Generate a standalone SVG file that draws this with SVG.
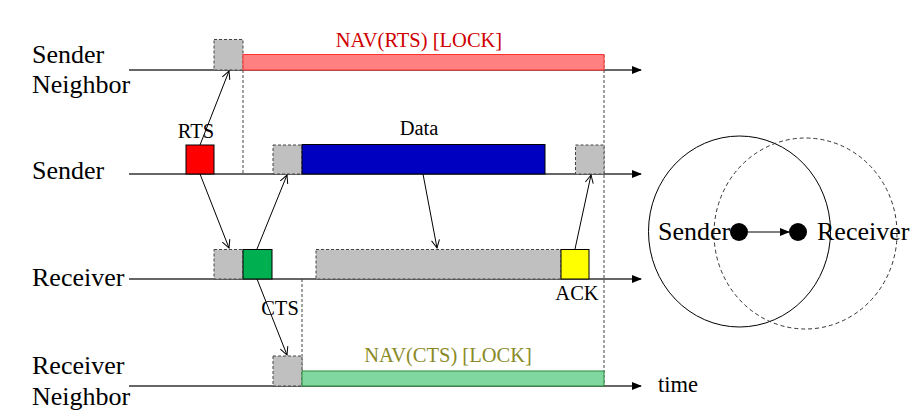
<svg xmlns="http://www.w3.org/2000/svg" width="914" height="420" viewBox="0 0 914 420">
<defs>
<style>
.lbl{font-family:"Liberation Serif","Times New Roman",serif;font-size:26px;fill:#000}
.sm{font-family:"Liberation Serif","Times New Roman",serif;font-size:20.5px;fill:#000}
.tl{stroke:#333;stroke-width:1.3;fill:none}
.gray{fill:#c0c0c0;stroke:#444;stroke-width:1;stroke-dasharray:3,2}
.solid{stroke:#000;stroke-width:1}
.vd{stroke:#444;stroke-width:1;stroke-dasharray:3,2;fill:none}
.msg{stroke:#000;stroke-width:1;fill:none}
</style>
<marker id="tip" markerWidth="10" markerHeight="8" refX="9" refY="4" orient="auto" markerUnits="userSpaceOnUse">
<path d="M0,0 L10,4 L0,8 Z" fill="#000"/>
</marker>
<marker id="open" markerWidth="10" markerHeight="10" refX="9" refY="5" orient="auto" markerUnits="userSpaceOnUse">
<path d="M1,1 L9,5 L1,9" fill="none" stroke="#000" stroke-width="1"/>
</marker>
</defs>
<rect width="914" height="420" fill="#fff"/>

<g id="timelines">
<line class="tl" x1="129" y1="70" x2="641" y2="70" marker-end="url(#tip)"/>
<line class="tl" x1="129" y1="174" x2="641" y2="174" marker-end="url(#tip)"/>
<line class="tl" x1="129" y1="279" x2="641" y2="279" marker-end="url(#tip)"/>
<line class="tl" x1="129" y1="386" x2="641" y2="386" marker-end="url(#tip)"/>
</g>

<g id="labels">
<text class="lbl" x="32" y="63">Sender</text>
<text class="lbl" x="32" y="93">Neighbor</text>
<text class="lbl" x="32" y="179">Sender</text>
<text class="lbl" x="32" y="286">Receiver</text>
<text class="lbl" x="32" y="374">Receiver</text>
<text class="lbl" x="32" y="405">Neighbor</text>
<text class="sm" x="658" y="392" style="font-size:22.5px">time</text>
</g>

<g id="guides">
<line class="vd" x1="243" y1="70" x2="243" y2="174"/>
<line class="vd" x1="604" y1="55" x2="604" y2="386"/>
<line class="vd" x1="302" y1="279" x2="302" y2="386"/>
</g>

<g id="sender-neighbor">
<rect class="gray" x="214" y="39.5" width="29" height="30.5"/>
<rect x="243" y="54.5" width="361" height="15.5" fill="#ff8080" stroke="#ff3030" stroke-width="1"/>
<text class="sm" x="419" y="47" text-anchor="middle" style="fill:#d00000">NAV(RTS) [LOCK]</text>
</g>

<g id="sender">
<rect class="solid" x="186" y="145" width="28" height="29" fill="#ff0000"/>
<text class="sm" x="196" y="138" text-anchor="middle">RTS</text>
<rect class="gray" x="273" y="145" width="29" height="29"/>
<rect class="solid" x="302" y="144.5" width="243" height="29.5" fill="#0000c0"/>
<text class="sm" x="419" y="135" text-anchor="middle">Data</text>
<rect class="gray" x="575.5" y="145" width="28.5" height="29"/>
</g>

<g id="receiver">
<rect class="gray" x="214" y="249.5" width="29" height="29.5"/>
<rect class="solid" x="243" y="249.5" width="29" height="29.5" fill="#00b050"/>
<text class="sm" x="280" y="315" text-anchor="middle">CTS</text>
<rect class="gray" x="316" y="249.5" width="245" height="29.5"/>
<rect class="solid" x="561" y="249.5" width="28" height="29.5" fill="#ffff00"/>
<text class="sm" x="577" y="300" text-anchor="middle">ACK</text>
</g>

<g id="receiver-neighbor">
<rect class="gray" x="273" y="356" width="29" height="30"/>
<rect x="302" y="371" width="302" height="15" fill="#80d8a0" stroke="#2a8a3a" stroke-width="1"/>
<text class="sm" x="448" y="362" text-anchor="middle" style="fill:#8a8a28">NAV(CTS) [LOCK]</text>
</g>

<g id="connectors">
<line class="msg" x1="200" y1="145" x2="229" y2="71" marker-end="url(#open)"/>
<line class="msg" x1="200" y1="174" x2="229" y2="248" marker-end="url(#open)"/>
<line class="msg" x1="257" y1="249" x2="287" y2="175" marker-end="url(#open)"/>
<line class="msg" x1="257" y1="279" x2="287" y2="355" marker-end="url(#open)"/>
<line class="msg" x1="423" y1="174" x2="437" y2="248" marker-end="url(#open)"/>
<line class="msg" x1="575" y1="249" x2="591" y2="175" marker-end="url(#open)"/>
</g>

<g id="range">
<ellipse cx="739.5" cy="231.5" rx="91" ry="95.5" fill="none" stroke="#000" stroke-width="1"/>
<ellipse cx="805.5" cy="233.5" rx="91.5" ry="95.5" fill="none" stroke="#333" stroke-width="1" stroke-dasharray="4,3"/>
</g>

<g id="node-sender">
<circle cx="739" cy="232" r="9" fill="#000"/>
<text class="lbl" x="658" y="240">Sender</text>
</g>
<g id="node-receiver">
<circle cx="798" cy="232" r="9" fill="#000"/>
<text class="lbl" x="817" y="240">Receiver</text>
</g>
<g id="link">
<line x1="748" y1="232" x2="789" y2="232" stroke="#000" stroke-width="1" marker-end="url(#tip)"/>
</g>
</svg>
